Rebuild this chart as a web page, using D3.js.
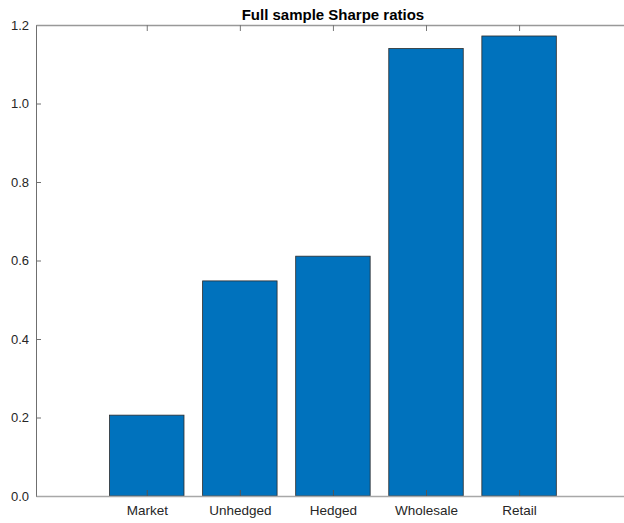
<!DOCTYPE html>
<html>
<head>
<meta charset="utf-8">
<script src="https://cdn.jsdelivr.net/npm/d3@7"></script>
<style>
  html, body { margin: 0; padding: 0; background: #fff; }
  svg { display: block; font-family: "Liberation Sans", Arial, Helvetica, sans-serif; }
</style>
</head>
<body>
<svg id="chart" width="624" height="523"></svg>
<script>
// Full-sample Sharpe ratios per strategy
const categories = ["Market", "Unhedged", "Hedged", "Wholesale", "Retail"];
const sharpe = [0.206, 0.548, 0.611, 1.140, 1.172];
const yTicks = [0.0, 0.2, 0.4, 0.6, 0.8, 1.0, 1.2];
const title = "Full sample Sharpe ratios";

const svg = d3.select("#chart");
const W = 624, H = 523;
const plot = { left: 36, top: 25, bottom: 496 };

// Categories sit at positions 1..n on a numeric axis
const x = d3.scaleLinear()
  .domain([-0.19, 6.19])
  .range([plot.left, plot.left + 6.38 * 93.08]);
const y = d3.scaleLinear().domain([0, 1.2]).range([plot.bottom, plot.top]);
const barW = (x(1) - x(0)) * 0.8;

const axisColor = "#8a8a8a";

// Bars
svg.append("g")
  .selectAll("rect")
  .data(sharpe)
  .join("rect")
  .attr("x", (d, i) => x(i + 1) - barW / 2)
  .attr("y", d => y(d))
  .attr("width", barW)
  .attr("height", d => y(0) - y(d))
  .attr("fill", "#0072BD")
  .attr("stroke", "#2b2b2b")
  .attr("stroke-width", 0.8);

// Left axis (ticks point inward)
const yAxis = d3.axisLeft(y)
  .tickValues(yTicks)
  .tickFormat(d3.format(".1f"))
  .tickSizeInner(-5)
  .tickSizeOuter(0)
  .tickPadding(7);
const gy = svg.append("g").attr("transform", `translate(${plot.left},0)`).call(yAxis);
gy.select(".domain").attr("stroke", "#6f6f6f");
gy.selectAll(".tick line").attr("stroke", "#6f6f6f");
gy.selectAll(".tick text")
  .attr("fill", "#262626")
  .style("font-size", "13px")
  .style("font-family", "'Liberation Sans', Arial, sans-serif");

// Bottom axis
const xAxis = d3.axisBottom(x)
  .tickValues(d3.range(1, categories.length + 1))
  .tickFormat(i => categories[i - 1])
  .tickSizeInner(-6)
  .tickSizeOuter(0)
  .tickPadding(9);
const gx = svg.append("g").attr("transform", `translate(0,${plot.bottom})`).call(xAxis);
gx.select(".domain").attr("stroke", "#a8a8a8").attr("stroke-width", 1.6);
gx.selectAll(".tick line").attr("stroke", "#555");
gx.selectAll(".tick text")
  .attr("fill", "#262626")
  .style("font-size", "13.5px")
  .style("font-family", "'Liberation Sans', Arial, sans-serif");

// Top axis (box edge)
const xTop = d3.axisTop(x)
  .tickValues(d3.range(1, categories.length + 1))
  .tickFormat("")
  .tickSizeInner(-6)
  .tickSizeOuter(0);
const gt = svg.append("g").attr("transform", `translate(0,${plot.top})`).call(xTop);
gt.select(".domain").attr("stroke", "#999").attr("stroke-width", 1.6);
gt.selectAll(".tick line").attr("stroke", "#777");

// Title
svg.append("text")
  .attr("x", x(3))
  .attr("y", 20)
  .attr("text-anchor", "middle")
  .attr("fill", "#000")
  .style("font-size", "15px")
  .style("font-weight", "bold")
  .text(title);
</script>
</body>
</html>
